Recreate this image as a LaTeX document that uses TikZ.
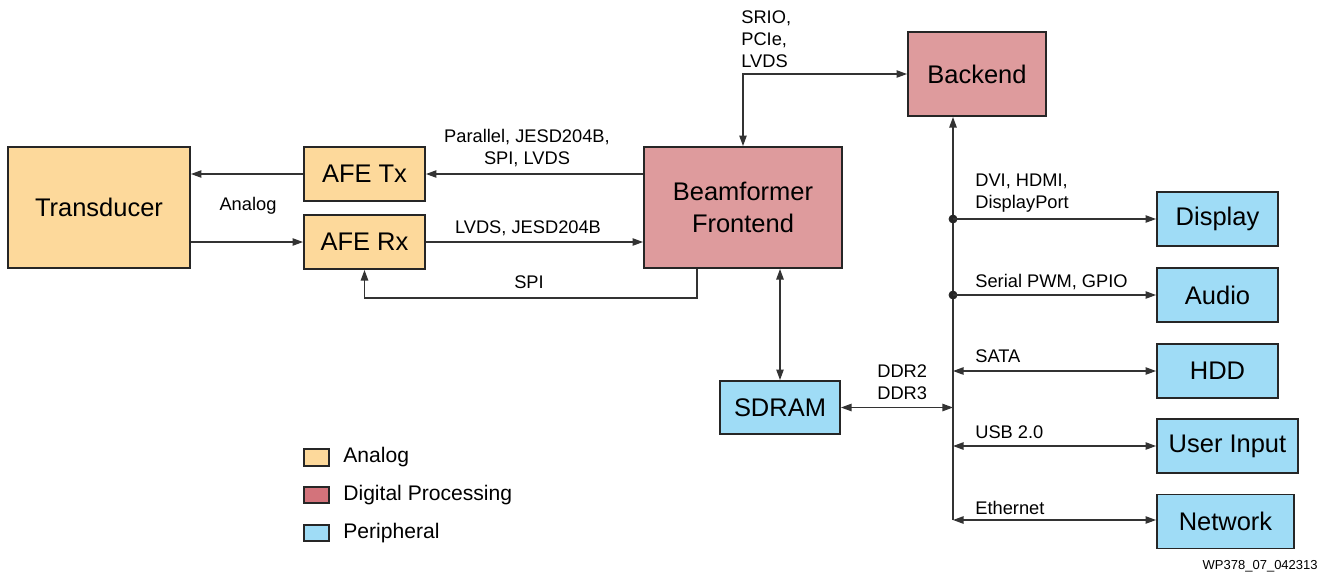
\documentclass[tikz,border=0pt]{standalone}
\usepackage{fontspec}
\setmainfont{Liberation Sans}
\usetikzlibrary{arrows.meta}

\definecolor{analogfill}{RGB}{253,217,155}
\definecolor{digitalfill}{RGB}{222,155,157}
\definecolor{digitalkey}{RGB}{211,115,123}
\definecolor{periphfill}{RGB}{159,220,246}

\begin{document}
\begin{tikzpicture}[x=0.02cm,y=-0.02cm,
    blk/.style={draw=black!85,line width=1.1pt,inner sep=0pt,align=center,
                font=\fontsize{14.5}{18}\selectfont},
    analogbox/.style={blk,fill=analogfill},
    digitalbox/.style={blk,fill=digitalfill},
    periphbox/.style={blk,fill=periphfill,minimum width=2.42cm,minimum height=1.08cm},
    keybox/.style={draw=black!85,line width=1.1pt,minimum width=0.5cm,minimum height=0.33cm,inner sep=0pt},
    lbl/.style={inner sep=0pt,align=left,font=\fontsize{10.4}{12.6}\selectfont},
    keylbl/.style={inner sep=0pt,anchor=west,font=\fontsize{12}{14}\selectfont},
    conn/.style={line width=0.75pt,draw=black!80},
    tip/.style={-{Triangle[length=6pt,width=4.2pt]}},
    tips/.style={{Triangle[length=6pt,width=4.2pt]}-{Triangle[length=6pt,width=4.2pt]}}]
    \useasboundingbox (0,0) rectangle (1323,576);

    % blocks
    \node[analogbox,minimum width=3.64cm,minimum height=2.42cm] (trans) at (99,207.5) {Transducer};
    \node[analogbox,minimum width=2.42cm,minimum height=1.08cm] (afetx) at (364.5,174) {AFE Tx};
    \node[analogbox,minimum width=2.42cm,minimum height=1.08cm] (afetrx) at (364.5,242) {AFE Rx};
    \node[digitalbox,minimum width=3.96cm,minimum height=2.42cm] (bf) at (743,207.5) {Beamformer\\Frontend};
    \node[digitalbox,minimum width=2.76cm,minimum height=1.68cm] (backend) at (977,74) {Backend};
    \node[periphbox,minimum width=2.4cm,minimum height=1.06cm] (sdram) at (780,407.5) {SDRAM};
    \node[periphbox] (display) at (1217.5,219) {Display};
    \node[periphbox] (audio) at (1217.5,295) {Audio};
    \node[periphbox] (hdd) at (1217.5,371) {HDD};
    \node[periphbox,minimum width=2.82cm] (userin) at (1227.5,446) {User Input};
    \node[periphbox,minimum width=2.74cm] (network) at (1225.5,521.5) {Network};

    % analog side
    \draw[conn,tip] (afetx.west) -- (afetx.west -| trans.east);
    \draw[conn,tip] (bf.west |- afetx.east) -- (afetx.east);
    \draw[conn,tip] (trans.east |- afetrx.west) -- (afetrx.west);
    \draw[conn,tip] (afetrx.east) -- (afetrx.east -| bf.west);
    \coordinate (spi) at (697,298);
    \draw[conn,tip] (spi |- bf.south) -- (spi) -- (spi -| afetrx.south) -- (afetrx.south);

    \node[lbl,align=center] (parlbl) at (527,148) {Parallel, JESD204B,\\SPI, LVDS};
    \node[lbl] (analbl) at (248,206) {Analog};
    \node[lbl] (lvdslbl) at (528,228) {LVDS, JESD204B};
    \node[lbl] (spilbl) at (529,282) {SPI};

    % backend link
    \draw[conn,tips] (bf.north) -- (bf.north |- backend.west) -- (backend.west);
    \node[lbl,anchor=west] (sriolbl) at (741,39.5) {SRIO,\\PCIe,\\LVDS};

    % memory
    \draw[conn,tips] (sdram.north) -- (sdram.north |- bf.south);
    \coordinate (bus) at (953,520);
    \draw[conn,tip] (bus) -- (bus |- backend.south);
    \draw[conn,tips] (sdram.east) -- (bus |- sdram.east);
    \node[lbl,anchor=west] (ddrlbl) at (877,382.5) {DDR2\\DDR3};

    % peripherals
    \filldraw[black!85] (bus |- display.west) circle (2.3pt);
    \filldraw[black!85] (bus |- audio.west) circle (2.3pt);
    \draw[conn,tip] (bus |- display.west) -- (display.west);
    \draw[conn,tip] (bus |- audio.west) -- (audio.west);
    \draw[conn,tips] (bus |- hdd.west) -- (hdd.west);
    \draw[conn,tips] (bus |- userin.west) -- (userin.west);
    \draw[conn,tips] (bus) -- (bus -| network.west);

    \node[lbl,anchor=west] (dvilbl) at (975,193) {DVI, HDMI,\\DisplayPort};
    \node[lbl,anchor=west] (pwmlbl) at (975,282) {Serial PWM, GPIO};
    \node[lbl,anchor=west] (satalbl) at (975,356) {SATA};
    \node[lbl,anchor=west] (usblbl) at (975,432) {USB 2.0};
    \node[lbl,anchor=west] (ethlbl) at (975,508) {Ethernet};

    % legend
    \node[keybox,fill=analogfill] (keyana) at (316.5,457.5) {};
    \node[keybox,fill=digitalkey] (keydig) at (316.5,495) {};
    \node[keybox,fill=periphfill] (keyper) at (316.5,533) {};
    \node[keylbl] (keyanalbl) at (343,457.5) {Analog};
    \node[keylbl] (keydiglbl) at (343,495) {Digital Processing};
    \node[keylbl] (keyperlbl) at (343,533) {Peripheral};

    \node[inner sep=0pt,anchor=east,font=\fontsize{7.4}{8}\selectfont] (figid) at (1318,566) {WP378\_07\_042313};
\end{tikzpicture}
\end{document}
